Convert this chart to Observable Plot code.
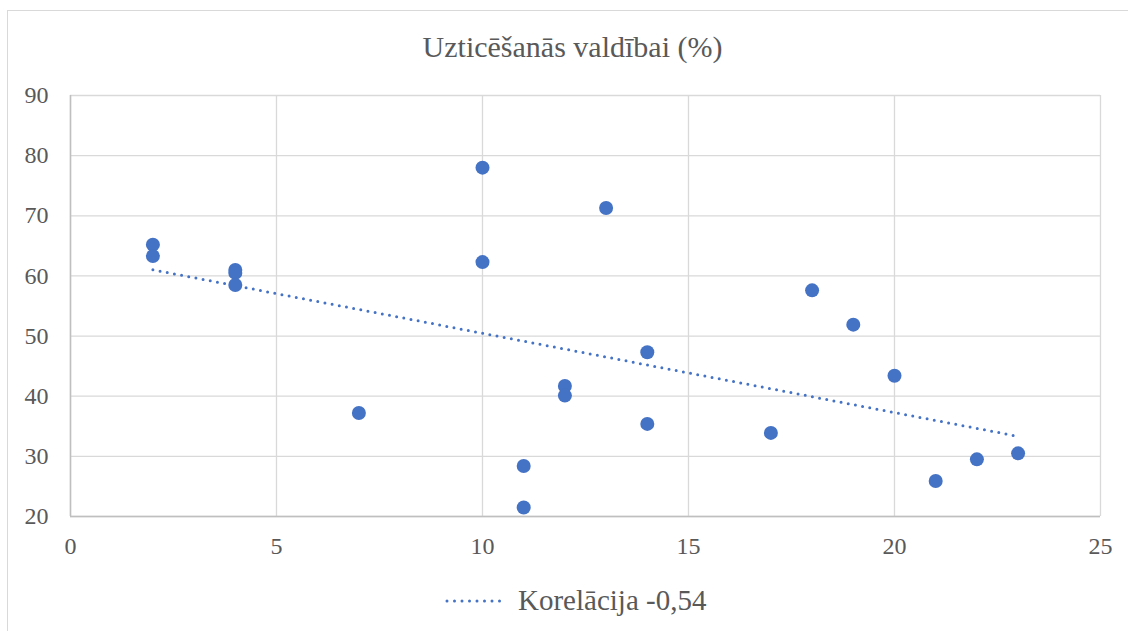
<!DOCTYPE html>
<html>
<head>
<meta charset="utf-8">
<script src="https://cdn.jsdelivr.net/npm/d3@7"></script>
<script src="https://cdn.jsdelivr.net/npm/@observablehq/plot@0.6"></script>
<style>
  html, body { margin: 0; padding: 0; background: #fff; }
  #wrap { position: relative; width: 1128px; height: 631px; overflow: hidden; background: #fff; font-family: "Liberation Serif", "DejaVu Serif", serif; }
  #frame { position: absolute; left: 7px; top: 10px; width: 1300px; height: 800px; border: 1.5px solid #d9d9d9; box-sizing: border-box; }
  #title { position: absolute; left: 0; width: 1145px; top: 32px; text-align: center; font-size: 30px; line-height: 1; color: #595959; }
  #chart { position: absolute; left: 0; top: 70px; }
  #legend { position: absolute; left: 445px; top: 586px; height: 29px; display: flex; align-items: center; }
  #legend span { font-size: 29px; line-height: 1; color: #595959; margin-left: 9px; }
</style>
</head>
<body>
<div id="wrap">
  <div id="frame"></div>
  <div id="title"></div>
  <div id="chart"></div>
  <div id="legend"></div>
</div>
<script>
// x values (horizontal axis) and trust in government (%)
const xValues = [2, 2, 4, 4, 4, 7, 10, 10, 11, 11, 12, 12, 13, 14, 14, 17, 18, 19, 20, 21, 22, 23];
const yValues = [65.2, 63.3, 61.0, 60.5, 58.5, 37.2, 78.0, 62.3, 28.4, 21.5, 41.7, 40.1, 71.3, 47.3, 35.4, 33.9, 57.6, 51.9, 43.4, 25.9, 29.5, 30.5];
const xTicks = [0, 5, 10, 15, 20, 25];
const yTicks = [20, 30, 40, 50, 60, 70, 80, 90];
const titleText = "Uzticēšanās valdībai (%)";
const legendLabel = "Korelācija -0,54";

const data = xValues.map((x, i) => ({x, y: yValues[i]}));
const blue = "#4472C4";
const serif = '"Liberation Serif", "DejaVu Serif", serif';

const chart = Plot.plot({
  width: 1128,
  height: 500,
  marginLeft: 70,
  marginRight: 28,
  marginTop: 25,
  marginBottom: 54,
  style: {fontFamily: serif, background: "transparent"},
  x: {domain: [0, 25]},
  y: {domain: [20, 90]},
  marks: [
    Plot.gridX(xTicks, {stroke: "#d9d9d9", strokeOpacity: 1, strokeWidth: 1.3}),
    Plot.gridY(yTicks, {stroke: "#d9d9d9", strokeOpacity: 1, strokeWidth: 1.3}),
    Plot.ruleX([0], {stroke: "#bfbfbf", strokeWidth: 1.5}),
    Plot.ruleY([20], {stroke: "#bfbfbf", strokeWidth: 1.5}),
    Plot.axisX(xTicks, {tickSize: 0, tickPadding: 20, fontSize: 24, fontFamily: serif, fill: "#595959", label: null, tickFormat: d => String(d)}),
    Plot.axisY(yTicks, {tickSize: 0, tickPadding: 22, fontSize: 24, fontFamily: serif, fill: "#595959", label: null, tickFormat: d => String(d)}),
    Plot.linearRegressionY(data, {x: "x", y: "y", ci: 0, stroke: blue, strokeWidth: 3, strokeDasharray: "0 7.3", strokeLinecap: "round"}),
    Plot.dot(data, {x: "x", y: "y", r: 7, fill: blue, stroke: "none"})
  ]
});
document.getElementById("chart").appendChild(chart);
document.getElementById("title").textContent = titleText;

// legend
const leg = document.getElementById("legend");
const ns = "http://www.w3.org/2000/svg";
const s = document.createElementNS(ns, "svg");
s.setAttribute("width", 64);
s.setAttribute("height", 10);
const ln = document.createElementNS(ns, "line");
ln.setAttribute("x1", 2); ln.setAttribute("x2", 62);
ln.setAttribute("y1", 5); ln.setAttribute("y2", 5);
ln.setAttribute("stroke", blue);
ln.setAttribute("stroke-width", 3);
ln.setAttribute("stroke-dasharray", "0 7.5");
ln.setAttribute("stroke-linecap", "round");
s.appendChild(ln);
leg.appendChild(s);
const sp = document.createElement("span");
sp.textContent = legendLabel;
leg.appendChild(sp);
</script>
</body>
</html>
